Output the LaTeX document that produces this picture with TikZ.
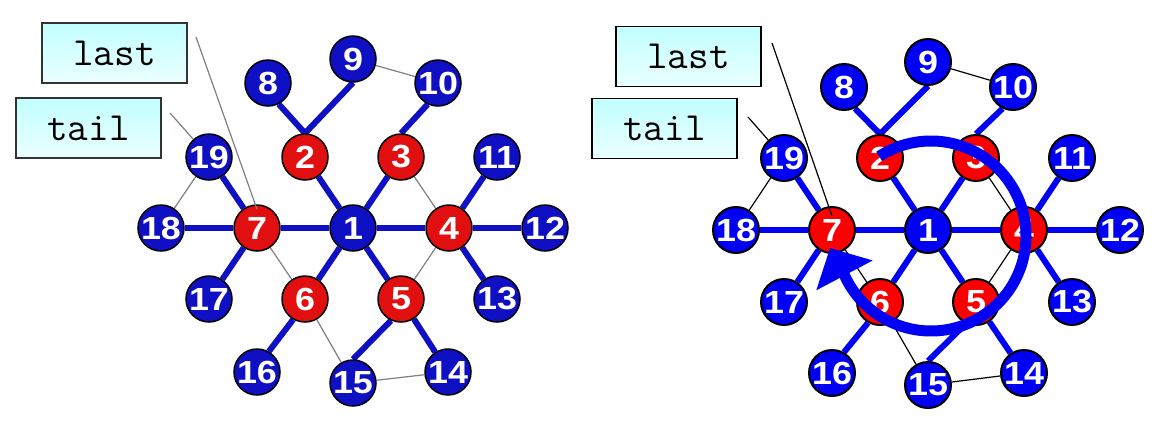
\documentclass[tikz,border=0pt]{standalone}
\usepackage{fontspec}
\newfontfamily\numfont{Liberation Sans}[FakeStretch=1.12]
\usepackage{tikz}
\usetikzlibrary{positioning}
\usetikzlibrary{arrows.meta}

\definecolor{lblue}{RGB}{15,15,195}
\definecolor{lred}{RGB}{225,15,15}
\definecolor{rblue}{RGB}{0,0,245}
\definecolor{rred}{RGB}{250,0,0}

\pgfdeclarelayer{back}
\pgfsetlayers{back,main}

\begin{document}
\begin{tikzpicture}	[
		x=1pt, y=-1pt,
		ball/.style={circle, draw=black, line width=1.5pt, minimum size=46pt, inner sep=0, text=white, font=\numfont\bfseries\fontsize{32}{32}\selectfont},
		bond/.style={line width=6pt},
		link/.style={line width=1.2pt},
		tag/.style={draw=black!80, line width=1.2pt, top color=cyan!24, bottom color=cyan!8, minimum width=145pt, minimum height=60pt, inner sep=0, font=\ttfamily\fontsize{40}{40}\selectfont},
		turn/.style={rblue, line width=11pt, -{Triangle[length=31pt,width=62pt]}}
	]
		\begin{pgfonlayer}{back}
			\fill[white] (0,0) rectangle (1164,421);
		\end{pgfonlayer}
		\useasboundingbox (0,0) rectangle (1164,421);

		% left tree
		\begin{scope}[shift={(353,228)}, bn/.style={ball, fill=lblue}, rn/.style={ball, fill=lred}]
			\foreach \n/\x/\y/\s in {1/0/0/bn, 2/-48/-71/rn, 3/48/-71/rn, 4/96/0/rn, 5/48/71/rn, 6/-48/71/rn, 7/-96/0/rn,
				8/-85/-145/bn, 9/0/-169/bn, 10/85/-145/bn, 11/144/-71/bn, 12/192/0/bn, 13/144/71/bn,
				14/95/144/bn, 15/0/155/bn, 16/-96/144/bn, 17/-144/71/bn, 18/-192/0/bn, 19/-144/-71/bn}
				\node[\s] (l\n) at (\x,\y) {\n};
		\end{scope}
		\begin{pgfonlayer}{back}
			\foreach \a/\b in {1/2,1/3,1/4,1/5,1/6,1/7,7/17,7/18,7/19,4/11,4/12,4/13,5/14}
				\draw[bond, lblue] (l\a) -- (l\b);
			\draw[bond, lblue]
				(l2.north) -- (l8.-63)
				(l2.north) -- (l9.south)
				(l3.north) -- (l10.-116)
				(l5.-115) -- (l15.north)
				(l6.-120) -- (l16.60)
			;
			\foreach \a/\b in {9/10,3/4,4/5,7/6,6/15,15/14,19/18}
				\draw[link, gray] (l\a) -- (l\b);
		\end{pgfonlayer}

		\node[tag] (llast) at (114.5,53) {last};
		\node[tag] (ltail) at (88.5,128) {tail};
		\coordinate (llastend) at (196,37);
		\coordinate (ltailend) at (170,113);
		\draw[link, gray]
			(llastend) -- ([yshift=-5pt]l7.north)
			(ltailend) -- (l19)
		;

		% right tree
		\begin{scope}[shift={(928,230)}, bn/.style={ball, fill=rblue, line width=2pt}, rn/.style={ball, fill=rred, line width=2pt}]
			\foreach \n/\x/\y/\s in {1/0/0/bn, 2/-48/-72/rn, 3/48/-72/rn, 4/96/0/rn, 5/48/72/rn, 6/-48/72/rn, 7/-96/0/rn,
				8/-84/-143/bn, 9/0/-168/bn, 10/85/-143/bn, 11/144/-72/bn, 12/192/0/bn, 13/144/72/bn,
				14/96/143/bn, 15/0/155/bn, 16/-96/143/bn, 17/-144/72/bn, 18/-192/0/bn, 19/-144/-72/bn}
				\node[\s] (r\n) at (\x,\y) {\n};
		\end{scope}
		\begin{pgfonlayer}{back}
			\foreach \a/\b in {1/2,1/3,1/4,1/5,1/6,1/7,7/17,7/18,7/19,4/11,4/12,4/13,5/14}
				\draw[bond, rblue] (r\a) -- (r\b);
			\draw[bond, rblue]
				(r2.north) -- (r8.-63)
				(r2.north) -- (r9.south)
				(r3.north) -- (r10.-116)
				(r5.-115) -- (r15.north)
				(r6.-120) -- (r16.60)
			;
			\foreach \a/\b in {9/10,3/4,4/5,7/6,6/15,15/14,19/18}
				\draw[link, black] (r\a) -- (r\b);
		\end{pgfonlayer}

		\node[tag, draw=black] (rlast) at (688.5,56.5) {last};
		\node[tag, draw=black] (rtail) at (664.5,128.5) {tail};
		\coordinate (rlastend) at (772,43);
		\coordinate (rtailend) at (748,117);
		\draw[link, black]
			(rlastend) -- ([yshift=-10pt]r7.north)
			(rtailend) -- (r19)
		;

		% turning arrow
		\coordinate (rturn) at (931,236);
		\coordinate (rtip) at (830,248);
		\draw[turn] ([shift={(-123:95)}]rturn) arc[start angle=-123, end angle=155, radius=95] -- (rtip);
	\end{tikzpicture}
\end{document}
